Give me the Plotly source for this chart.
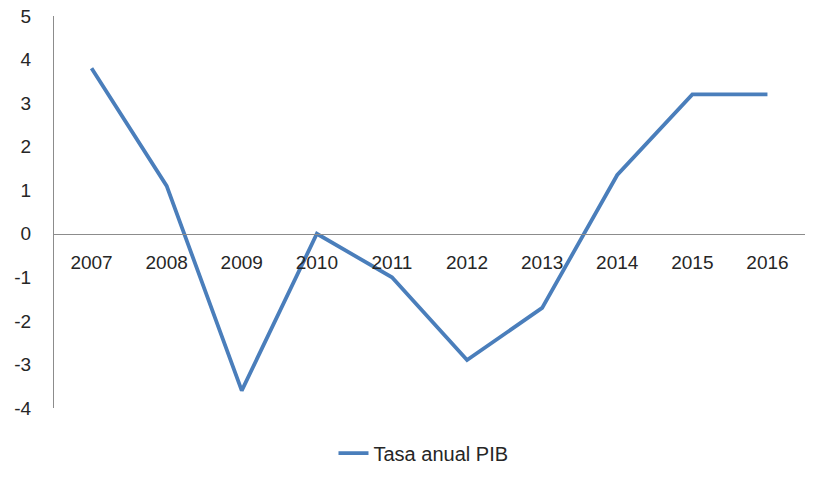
import plotly.graph_objects as go

years = ["2007", "2008", "2009", "2010", "2011", "2012", "2013", "2014", "2015", "2016"]
pib = [3.8, 1.1, -3.6, 0.0, -1.0, -2.9, -1.7, 1.35, 3.2, 3.2]
y_ticks = [5, 4, 3, 2, 1, 0, -1, -2, -3, -4]
series_name = "Tasa anual PIB"

FONT = "Liberation Sans"
TXT = "#262626"
AXIS = "#8c8c8c"

fig = go.Figure()
fig.add_trace(go.Scatter(
    x=years, y=pib, mode="lines", name=series_name,
    line=dict(color="#4a7ebb", width=3.8),
))

ymin, ymax = -4, 5
fig.update_layout(
    width=824, height=489,
    margin=dict(l=54, r=19, t=16, b=81, autoexpand=False),
    paper_bgcolor="white", plot_bgcolor="white",
    font=dict(family=FONT, size=19, color=TXT),
    showlegend=True,
    legend=dict(orientation="h", x=0.492, xanchor="center", y=-0.115, yanchor="middle",
                font=dict(family=FONT, size=20, color=TXT)),
    xaxis=dict(
        type="category", categoryarray=years, range=[-0.5, 9.5],
        showgrid=False, zeroline=False, showline=True, linecolor=AXIS, linewidth=1,
        ticks="", anchor="free", position=(0 - ymin) / (ymax - ymin),
        ticklabelstandoff=11, automargin=False,
        tickfont=dict(family=FONT, size=19, color=TXT),
    ),
    yaxis=dict(
        range=[ymin, ymax], tickvals=y_ticks, ticktext=[str(v) for v in y_ticks],
        showgrid=False, zeroline=False, showline=True, linecolor=AXIS, linewidth=1,
        ticks="", ticklabelstandoff=18, automargin=False,
        tickfont=dict(family=FONT, size=19, color=TXT),
    ),
)

fig.write_html("out.html")
